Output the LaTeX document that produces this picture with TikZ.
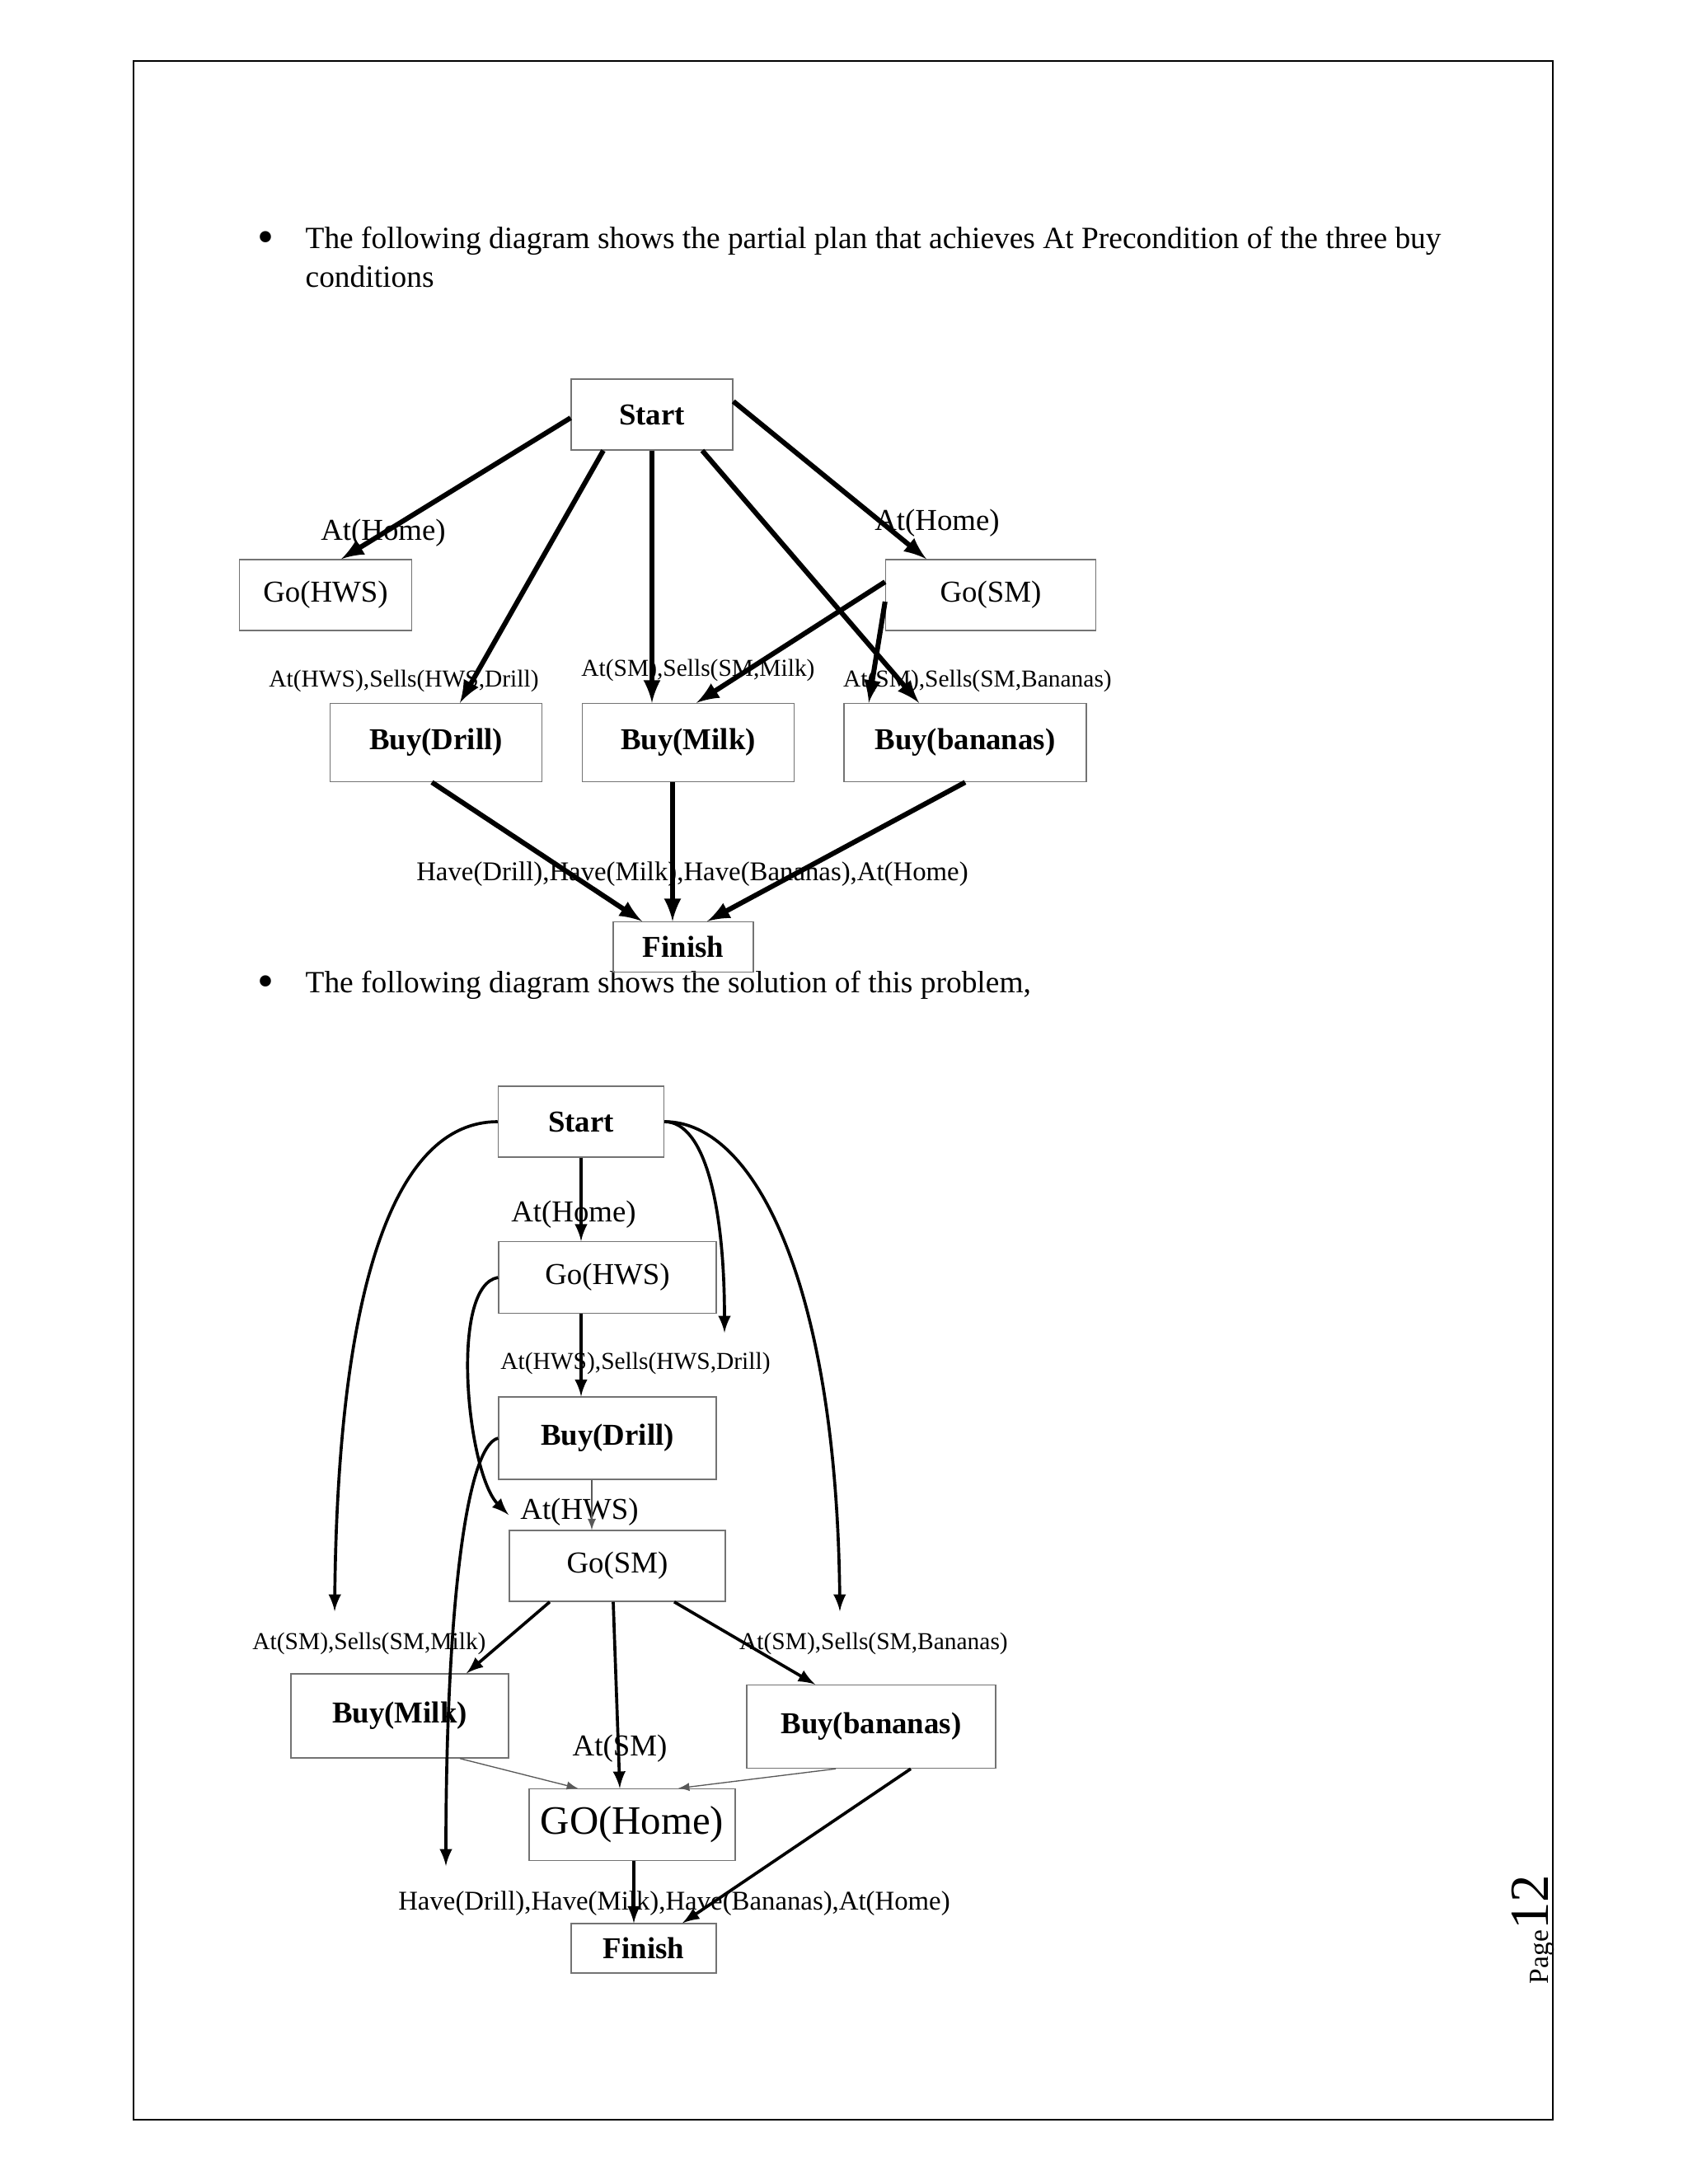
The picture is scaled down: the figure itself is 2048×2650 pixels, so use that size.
\documentclass[tikz,border=0pt]{standalone}
\usepackage{fontspec}
\setmainfont{Liberation Serif}
\usepackage{tikz}
\usetikzlibrary{arrows}
\usetikzlibrary{calc}
\tikzset{act/.style = {draw = black!55, inner sep = 0, font = \fontsize{11}{13}\selectfont}}
\tikzset{actb/.style = {act, font = \fontsize{11}{13}\selectfont\bfseries}}
\tikzset{cond/.style = {inner sep = 0, font = \fontsize{8.8}{10}\selectfont}}
\tikzset{condl/.style = {inner sep = 0, font = \fontsize{11}{13}\selectfont}}
\tikzset{have/.style = {inner sep = 0, font = \fontsize{9.8}{11}\selectfont}}
\tikzset{body/.style = {anchor = west, inner sep = 0, font = \fontsize{11.18}{13}\selectfont}}
\tikzset{thickarr/.style = {line width = 1.8pt, -latex}}
\tikzset{midarr/.style = {line width = 1.1pt, -latex}}
\tikzset{thinarr/.style = {line width = 0.4pt, draw = black!65, -latex}}

\begin{document}
\begin{tikzpicture}[x = 0.2988pt, y = -0.2988pt]
    \useasboundingbox (0, 0) rectangle (2048, 2650);
    \draw [line width = 0.6pt] (162, 74) rectangle (1884, 2572);
    \node [rotate = 90, anchor = base, inner sep = 0] (pageno) at (1878, 2341) {\fontsize{10}{12}\selectfont Page\fontsize{20}{24}\selectfont 12};

    % text
    \node [inner sep = 0, font = \fontsize{17}{17}\selectfont] (bul1) at (322, 294) {\textbullet};
    \node [body] (txt1) at (370, 292) {The following diagram shows the partial plan that achieves At Precondition of the three buy};
    \node [body] (txt2) at (370, 336) {conditions};
    \node [inner sep = 0, font = \fontsize{17}{17}\selectfont] (bul2) at (322, 1197) {\textbullet};
    \node [body] (txt3) at (370, 1195) {The following diagram shows the solution of this problem,};

    % partial plan
    \node [actb, minimum width = 58.6pt, minimum height = 25.7pt] (tStart) at (791, 503) {Start};
    \node [act, minimum width = 62.5pt, minimum height = 25.7pt] (tGoHWS) at (395, 722) {Go(HWS)};
    \node [act, minimum width = 76.2pt, minimum height = 25.7pt] (tGoSM) at (1202, 722) {Go(SM)};
    \node [actb, minimum width = 76.8pt, minimum height = 28.4pt] (tBuyDrill) at (529, 901) {Buy(Drill)};
    \node [actb, minimum width = 76.8pt, minimum height = 28.4pt] (tBuyMilk) at (835, 901) {Buy(Milk)};
    \node [actb, minimum width = 87.8pt, minimum height = 28.4pt] (tBuyBan) at (1171, 901) {Buy(bananas)};
    \node [actb, minimum width = 50.8pt, minimum height = 18.2pt] (tFinish) at (829, 1149) {Finish};

    \node [condl] (tHome1) at (465, 647) {At(Home)};
    \node [condl] (tHome2) at (1137, 635) {At(Home)};
    \node [cond] (tDrillPre) at (490, 826) {At(HWS),Sells(HWS,Drill)};
    \node [cond] (tMilkPre) at (847, 813) {At(SM),Sells(SM,Milk)};
    \node [cond] (tBanPre) at (1186, 826) {At(SM),Sells(SM,Bananas)};
    \node [have] (tGoal) at (840, 1061) {Have(Drill),Have(Milk),Have(Bananas),At(Home)};

    \draw [thickarr] ($(tStart.west) + (0, 4)$) -- ($(tGoHWS.north) + (19, 0)$);
    \draw [thickarr] ($(tStart.south) + (-59, 0)$) -- ($(tBuyDrill.north) + (29, 0)$);
    \draw [thickarr] (tStart.south) -- (tStart.south |- tBuyMilk.north);
    \draw [thickarr] ($(tStart.south) + (61, 0)$) -- ($(tBuyBan.north) + (-56, 0)$);
    \draw [thickarr] ($(tStart.east) + (0, -16)$) -- ($(tGoSM.north) + (-78, 0)$);
    \draw [thickarr] ($(tGoSM.west) + (0, -16)$) -- ($(tBuyMilk.north) + (10, 0)$);
    \draw [thickarr] ($(tGoSM.west) + (0, 8)$) -- ($(tBuyBan.north) + (-117, 0)$);
    \draw [thickarr] ($(tBuyDrill.south) + (-5, 0)$) -- ($(tFinish.north) + (-50, 0)$);
    \draw [thickarr] ($(tBuyMilk.south) + (-19, 0)$) -- ($(tFinish.north) + (-13, 0)$);
    \draw [thickarr] (tBuyBan.south) -- ($(tFinish.north) + (29, 0)$);

    % solution
    \node [actb, minimum width = 60.1pt, minimum height = 25.7pt] (bStart) at (705, 1361) {Start};
    \node [act, minimum width = 78.9pt, minimum height = 26pt] (bGoHWS) at (737, 1550) {Go(HWS)};
    \node [actb, minimum width = 78.9pt, minimum height = 29.9pt] (bBuyDrill) at (737, 1745) {Buy(Drill)};
    \node [act, minimum width = 78.3pt, minimum height = 25.7pt] (bGoSM) at (749, 1900) {Go(SM)};
    \node [actb, minimum width = 78.9pt, minimum height = 30.5pt] (bBuyMilk) at (485, 2082) {Buy(Milk)};
    \node [actb, minimum width = 90.2pt, minimum height = 30.2pt] (bBuyBan) at (1057, 2095) {Buy(bananas)};
    \node [act, minimum width = 74.7pt, minimum height = 26pt, font = \fontsize{14.6}{16}\selectfont] (bGoHome) at (767, 2214) {GO(Home)};
    \node [actb, minimum width = 52.6pt, minimum height = 17.9pt] (bFinish) at (781, 2364) {Finish};

    \node [condl] (bHome) at (696, 1474) {At(Home)};
    \node [cond] (bDrillPre) at (771, 1654) {At(HWS),Sells(HWS,Drill)};
    \node [condl] (bHws) at (703, 1835) {At(HWS)};
    \node [cond] (bMilkPre) at (448, 1994) {At(SM),Sells(SM,Milk)};
    \node [cond] (bBanPre) at (1060, 1994) {At(SM),Sells(SM,Bananas)};
    \node [condl] (bSm) at (752, 2122) {At(SM)};
    \node [have] (bGoal) at (818, 2310) {Have(Drill),Have(Milk),Have(Bananas),At(Home)};

    \coordinate (freeMilk) at (406, 1955);
    \coordinate (freeDrill) at (879, 1617);
    \coordinate (freeBan) at (1019, 1955);
    \coordinate (freeGoSM) at (617, 1838);
    \coordinate (freeFinish) at (541, 2264);

    \draw [midarr] (bStart.south) -- (bStart.south |- bGoHWS.north);
    \draw [midarr] ($(bGoHWS.south) + (-32, 0)$) -- ($(bBuyDrill.north) + (-32, 0)$);
    \draw [thinarr] ($(bBuyDrill.south) + (-19, 0)$) -- ($(bGoSM.north) + (-31, 0)$);
    \draw [midarr] ($(bGoSM.south) + (-82, 0)$) -- ($(bBuyMilk.north) + (81, 0)$);
    \draw [midarr] ($(bGoSM.south) + (-5, 0)$) -- ($(bGoHome.north) + (-15, 0)$);
    \draw [midarr] ($(bGoSM.south) + (69, 0)$) -- ($(bBuyBan.north) + (-68, 0)$);
    \draw [thinarr] ($(bBuyMilk.south) + (73, 0)$) -- ($(bGoHome.north) + (-66, 0)$);
    \draw [thinarr] ($(bBuyBan.south) + (-43, 0)$) -- ($(bGoHome.north) + (56, 0)$);
    \draw [midarr] ($(bGoHome.south) + (2, 0)$) -- ($(bFinish.north) + (-12, 0)$);
    \draw [midarr] ($(bBuyBan.south) + (48, 0)$) -- ($(bFinish.north) + (47, 0)$);

    \draw [midarr] (bStart.west) .. controls +(-125, 0) and +(4, -395) .. (freeMilk);
    \draw [midarr] (bStart.east) .. controls +(50, 0) and +(0, -150) .. (freeDrill);
    \draw [midarr] (bStart.east) .. controls +(110, 0) and +(-4, -395) .. (freeBan);
    \draw [midarr] (bGoHWS.west) .. controls +(-60, 10) and +(-50, -50) .. (freeGoSM);
    \draw [midarr] (bBuyDrill.west) .. controls +(-40, 10) and +(0, -300) .. (freeFinish);
\end{tikzpicture}
\end{document}
